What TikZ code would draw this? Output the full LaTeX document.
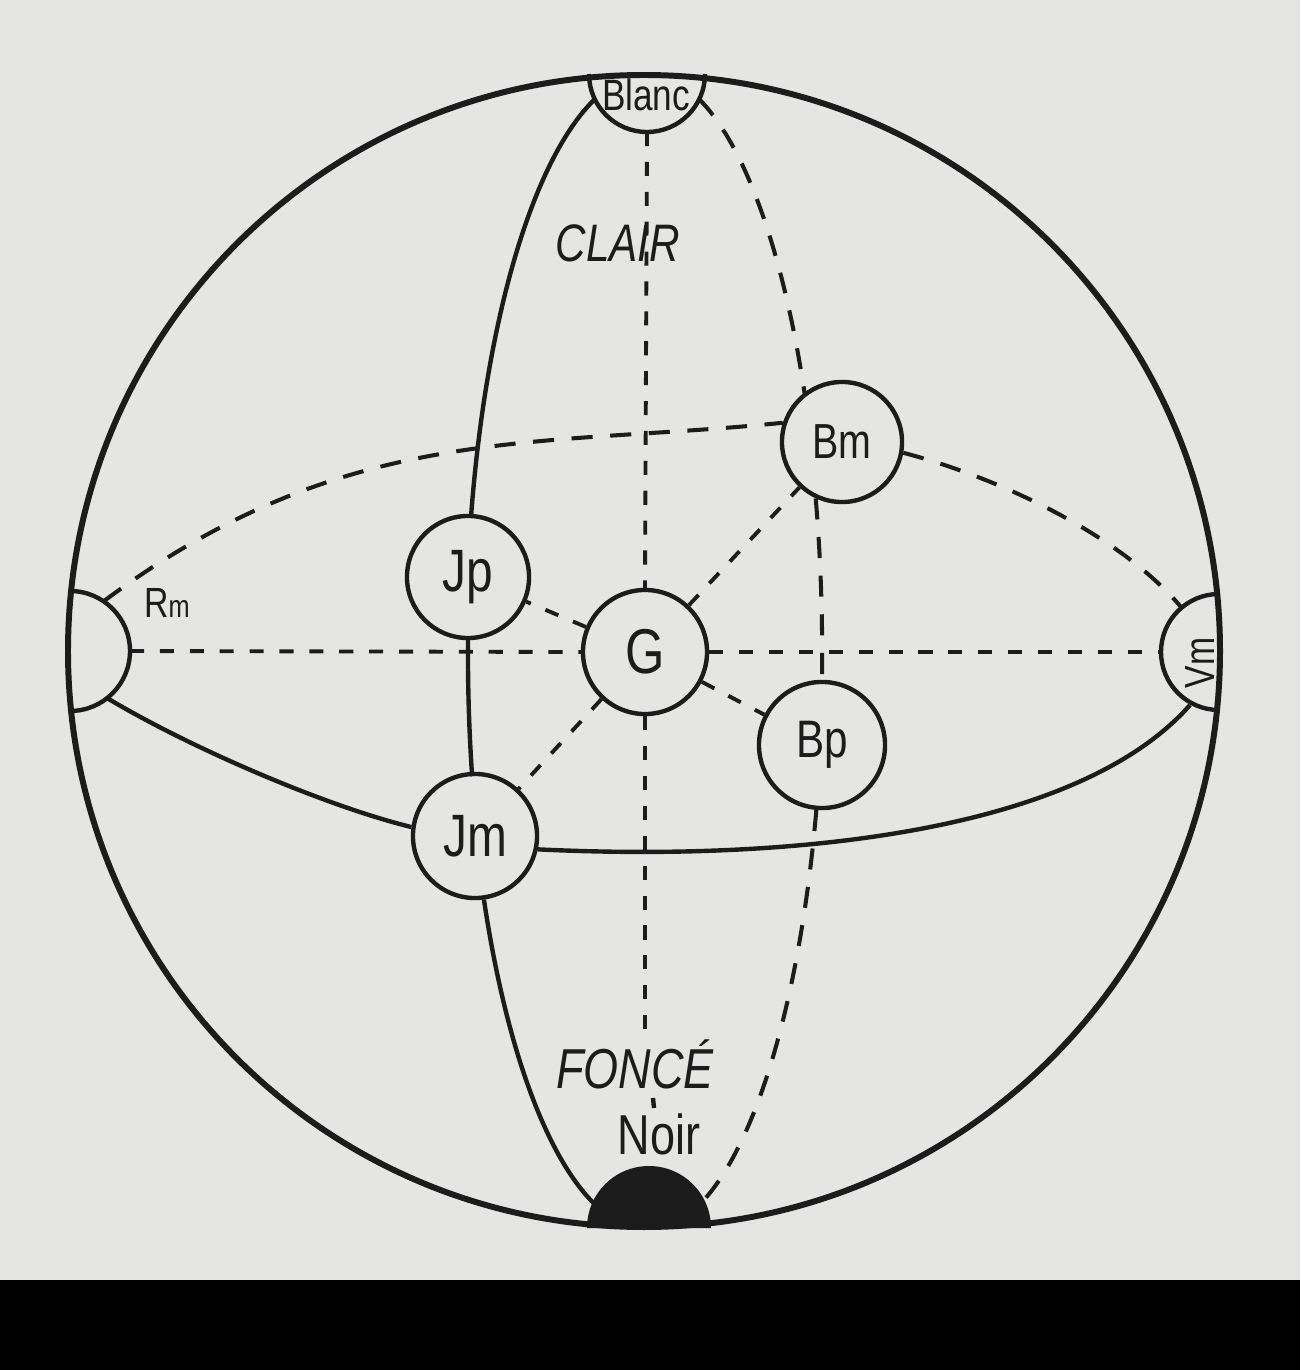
\documentclass[tikz,border=0pt]{standalone}
\usepackage{fontspec}
\setmainfont{Liberation Sans}
\newfontfamily\lab[FakeStretch=0.8]{Liberation Sans}
\definecolor{paper}{RGB}{229,229,227}
\definecolor{ink}{RGB}{28,28,28}
\begin{document}
\begin{tikzpicture}[x=0.01cm,y=-0.01cm,
  solidline/.style={draw=ink,line width=1.25pt},
  rim/.style={draw=ink,line width=1.7pt},
  axisdash/.style={draw=ink,line width=1.1pt,dash pattern=on 4pt off 4.5pt},
  gdash/.style={draw=ink,line width=1.15pt,dash pattern=on 6pt off 5pt},
  ball/.style={circle,draw=ink,line width=1.25pt,fill=paper,inner sep=0pt,text=ink},
  lbl/.style={text=ink,inner sep=1pt}
]
\fill[paper] (0,0) rectangle (1300,1280);
\fill[black] (0,1280) rectangle (1300,1370);
\useasboundingbox (0,0) rectangle (1300,1370);

% sphere outline
\draw[rim] (644,651) circle[radius=576];

% semicircle poles
\coordinate (blanc) at (647,74);
\coordinate (noir) at (649,1228);
\coordinate (rm) at (70,651);
\coordinate (vm) at (1219,652);
\draw[solidline] (705,74) arc[start angle=0,end angle=180,radius=58];
\fill[ink] (587,1228) arc[start angle=180,end angle=360,radius=62] -- cycle;
\draw[solidline] (70,591) arc[start angle=-90,end angle=90,radius=60];
\draw[solidline] (1219,710) arc[start angle=90,end angle=270,radius=58];

% points on the poles
\coordinate (blancL) at (594.8,99.2);
\coordinate (blancR) at (699.2,99.2);
\coordinate (blancB) at (647,132);
\coordinate (rmT) at (104,601);
\coordinate (rmR) at (130,651);
\coordinate (rmB) at (107,698);
\coordinate (vmT) at (1181,607);
\coordinate (vmL) at (1161,652);
\coordinate (vmB) at (1190,705);
\coordinate (tickA) at (653,1098);
\coordinate (tickB) at (654,1108);

% balls
\node[ball,minimum size=1.22cm,font=\lab\fontsize{17}{17}\selectfont] (jp) at (468,577) {Jp};
\node[ball,minimum size=1.24cm,font=\lab\fontsize{18}{18}\selectfont] (g) at (645,652) {G};
\node[ball,minimum size=1.20cm,font=\lab\fontsize{14}{14}\selectfont] (bm) at (842,442) {Bm};
\node[ball,minimum size=1.26cm,font=\lab\fontsize{15}{15}\selectfont] (bp) at (822,745) {Bp};
\node[ball,minimum size=1.24cm,font=\lab\fontsize{17}{17}\selectfont] (jm) at (475,836) {Jm};

% labels
\node[lbl,font=\lab\fontsize{12.5}{12.5}\selectfont] (blanclbl) at (646,95) {Blanc};
\node[lbl,font=\lab\itshape\fontsize{15}{15}\selectfont] (clair) at (618,243) {CLAIR};
\node[lbl,font=\lab\itshape\fontsize{16}{16}\selectfont] (fonce) at (635,1064) {FONCÉ};
\node[lbl,font=\lab\fontsize{16}{16}\selectfont] (noirlbl) at (659,1134) {Noir};
\node[lbl,font=\lab\fontsize{12}{12}\selectfont] (rmlbl) at (167,603) {R{\fontsize{9}{9}\selectfont m}};
\node[lbl,font=\lab\fontsize{12}{12}\selectfont,rotate=90] (vmlbl) at (1200,663) {Vm};

% left meridian (solid)
\draw[solidline] (blancL) arc[start angle=-107,end angle=-166.5,x radius=182,y radius=577];
\draw[solidline] (jp.south) arc[start angle=181.3,end angle=167.7,x radius=182,y radius=577];
\draw[solidline] (jm.-82) arc[start angle=154.7,end angle=107.7,x radius=182,y radius=577];

% right meridian (dashed)
\draw[gdash] (blancR) arc[start angle=-73,end angle=-26.4,x radius=175,y radius=577];
\draw[gdash] (bm.-115) arc[start angle=-15.6,end angle=3.2,x radius=175,y radius=577];
\draw[gdash] (bp.-95) arc[start angle=15.75,end angle=71.5,x radius=175,y radius=577];

% vertical axis
\draw[axisdash] (blancB) -- (g.north);
\draw[axisdash] (g.south) -- (fonce.north -| g.south);
\draw[solidline] (tickA) -- (tickB);

% horizontal axis
\draw[axisdash] (rmR) -- (g.west);
\draw[axisdash] (g.east) -- (vmL);

% equator, back (dashed)
\draw[gdash] (rmT) .. controls (346,421) and (535,448) .. (bm.162);
\draw[gdash] (bm.-10) .. controls (1000,478) and (1120,535) .. (vmT);

% equator, front (solid)
\draw[solidline] (rmB) .. controls (187,746) and (322,805) .. (jm.172);
\draw[solidline] (jm.-12) .. controls (800,862) and (1080,830) .. (vmB);

% diagonals from G
\draw[axisdash] (g) -- (jp);
\draw[axisdash] (g) -- (bm);
\draw[axisdash] (g) -- (jm);
\draw[axisdash] (g) -- (bp);
\end{tikzpicture}
\end{document}
